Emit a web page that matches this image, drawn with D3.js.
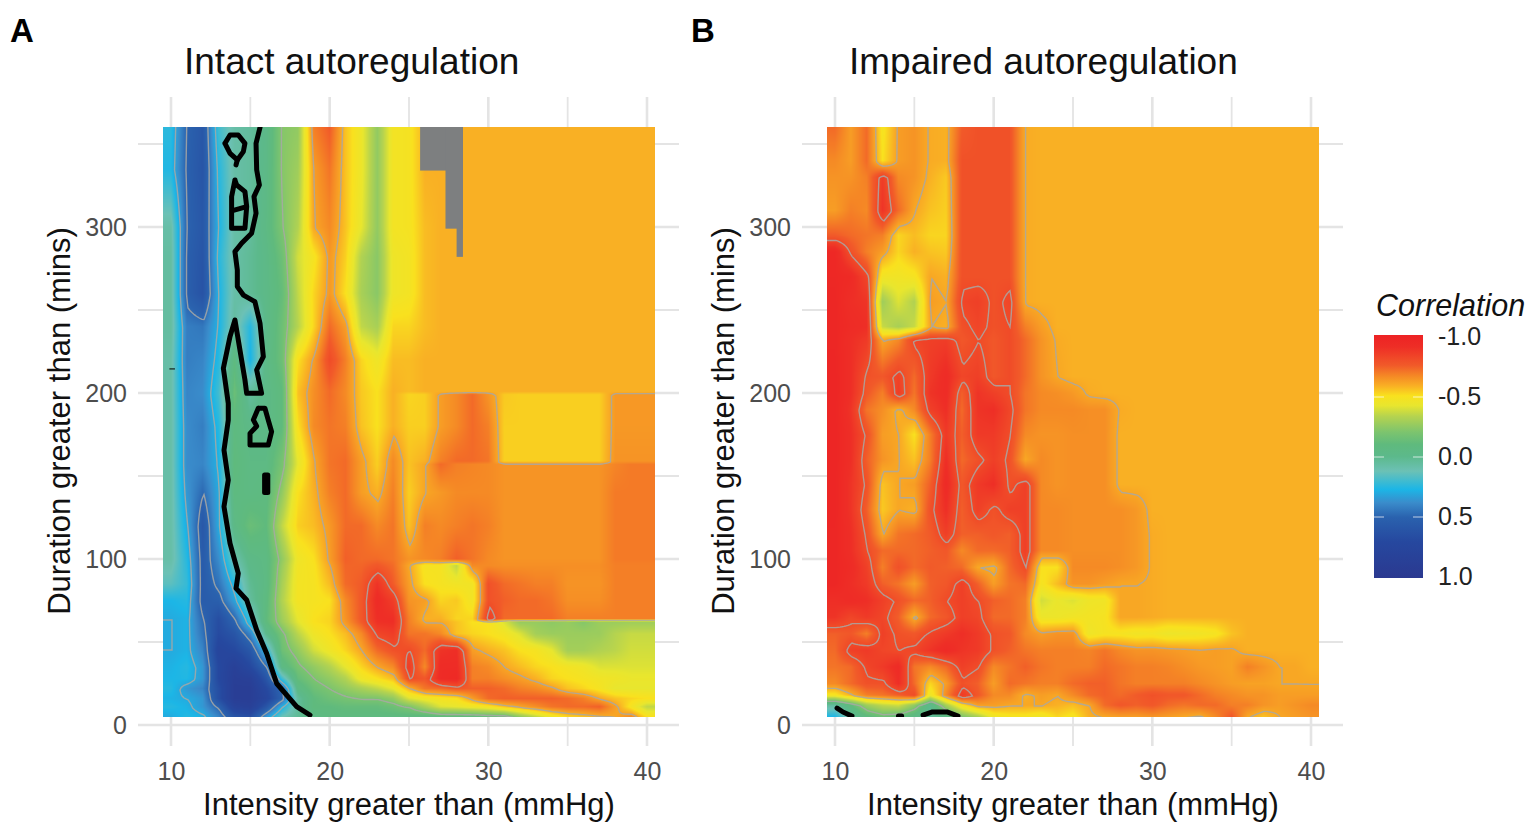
<!DOCTYPE html>
<html>
<head>
<meta charset="utf-8">
<script src="https://cdn.jsdelivr.net/npm/d3@7"></script>
<style>
body { margin: 0; background: #fff; }
svg { display: block; font-family: "Liberation Sans", Arial, sans-serif; }
</style>
</head>
<body>
<svg id="chart" width="1537" height="829"></svg>
<script>
// intensity thresholds (mmHg), one value per column of the rows below
var intensities = d3.range(10, 41);

// duration thresholds (mins) and correlation x100, panel A
var durationsA = [360, 335, 300, 282, 260, 240, 220, 201, 199, 180, 159, 157, 140, 120, 100, 96, 85, 75, 64, 62, 55, 45, 35, 28, 22, 16, 11, 5];
var intact = [
    [24,50,58,20,8,5,-2,-22,-25,-68,-75,-55,-44,-25,-47,-48,-58,-58,-58,-58,-58,-58,-58,-58,-58,-58,-58,-58,-58,-58,-58],
    [26,51,60,25,8,5,-3,-22,-28,-62,-70,-55,-44,-25,-47,-48,-58,-58,-58,-58,-58,-58,-58,-58,-58,-58,-58,-58,-58,-58,-58],
    [8,50,58,28,8,5,-5,-20,-32,-60,-66,-55,-42,-25,-47,-48,-56,-58,-58,-58,-58,-58,-58,-58,-58,-58,-58,-58,-58,-58,-58],
    [6,52,60,25,8,3,-3,-15,-38,-48,-63,-53,-32,-23,-45,-47,-56,-58,-58,-58,-58,-58,-58,-58,-58,-58,-58,-58,-58,-58,-58],
    [6,52,62,28,8,3,-3,-12,-35,-52,-63,-50,-30,-23,-45,-47,-56,-58,-58,-58,-58,-58,-58,-58,-58,-58,-58,-58,-58,-58,-58],
    [6,42,44,28,6,25,-2,-15,-33,-52,-72,-62,-35,-30,-52,-52,-56,-58,-58,-58,-58,-58,-58,-58,-58,-58,-58,-58,-58,-58,-58],
    [8,42,40,25,-8,28,-3,-15,-50,-62,-80,-68,-52,-45,-56,-56,-58,-58,-58,-58,-58,-58,-58,-58,-58,-58,-58,-58,-58,-58,-58],
    [8,40,38,20,-14,5,-3,-10,-55,-65,-72,-66,-54,-50,-58,-56,-58,-58,-58,-58,-58,-58,-58,-58,-58,-58,-58,-58,-58,-58,-58],
    [8,40,38,20,-14,5,-3,-10,-55,-65,-72,-66,-54,-50,-58,-52,-53,-62,-66,-72,-64,-54,-53,-53,-53,-53,-53,-53,-63,-63,-63],
    [8,38,42,25,-8,-3,-3,-10,-50,-66,-70,-68,-55,-50,-58,-53,-53,-62,-66,-72,-68,-53,-53,-53,-53,-53,-53,-53,-63,-63,-63],
    [8,38,40,28,-10,-5,-5,-18,-42,-60,-70,-72,-62,-53,-66,-55,-58,-68,-72,-72,-70,-53,-53,-53,-53,-53,-53,-53,-64,-64,-64],
    [8,38,40,28,-10,-5,-5,-18,-42,-60,-70,-72,-62,-53,-66,-55,-60,-72,-68,-67,-66,-64,-64,-64,-64,-64,-64,-64,-67,-69,-69],
    [8,35,48,30,-8,-6,-8,-25,-50,-58,-68,-72,-62,-58,-68,-53,-60,-63,-66,-66,-66,-64,-64,-64,-64,-64,-64,-64,-69,-69,-69],
    [8,30,58,30,-4,-14,-10,-35,-53,-56,-63,-72,-72,-66,-70,-55,-68,-66,-68,-70,-68,-64,-64,-64,-64,-64,-64,-64,-69,-69,-69],
    [8,25,55,38,10,-3,-6,-25,-45,-50,-62,-74,-72,-72,-70,-64,-66,-68,-74,-70,-66,-64,-64,-64,-64,-64,-64,-64,-69,-69,-69],
    [10,24,55,40,14,-2,-6,-27,-46,-49,-60,-73,-73,-76,-72,-60,-48,-48,-35,-66,-66,-65,-65,-65,-65,-65,-65,-65,-68,-68,-68],
    [15,22,55,45,25,2,-6,-30,-47,-48,-56,-72,-75,-88,-75,-62,-50,-48,-46,-46,-78,-72,-70,-68,-68,-64,-64,-64,-68,-68,-68],
    [27,25,55,52,32,5,-8,-32,-47,-48,-50,-66,-76,-92,-85,-64,-62,-52,-54,-46,-78,-74,-72,-72,-70,-65,-65,-65,-68,-68,-68],
    [30,28,48,65,48,20,-10,-28,-42,-50,-52,-64,-76,-90,-90,-68,-58,-58,-52,-52,-85,-72,-72,-72,-72,-68,-68,-68,-68,-68,-68],
    [30,28,47,66,50,22,-9,-27,-41,-50,-52,-63,-75,-89,-90,-68,-60,-60,-55,-50,-50,-40,-26,-26,-24,-26,-22,-27,-27,-28,-28],
    [30,28,45,68,60,40,0,-18,-34,-45,-50,-56,-66,-82,-85,-70,-70,-66,-55,-52,-50,-47,-40,-29,-27,-27,-27,-27,-33,-36,-36],
    [30,28,40,75,70,58,25,-15,-25,-38,-45,-52,-60,-72,-78,-80,-72,-88,-90,-62,-58,-55,-50,-48,-42,-29,-29,-32,-34,-38,-38],
    [28,25,35,70,85,70,48,-5,-18,-25,-32,-42,-52,-60,-66,-85,-66,-92,-92,-68,-66,-60,-56,-52,-50,-47,-45,-40,-40,-40,-40],
    [27,26,35,70,88,85,60,20,-12,-20,-25,-32,-45,-50,-56,-80,-76,-92,-94,-68,-68,-65,-62,-58,-52,-50,-48,-46,-45,-43,-43],
    [25,35,40,65,90,90,70,48,-4,-15,-20,-25,-30,-35,-42,-58,-70,-72,-76,-74,-74,-72,-68,-66,-62,-55,-52,-48,-42,-42,-42],
    [28,30,35,65,90,90,75,50,5,-10,-15,-18,-20,-20,-25,-40,-45,-48,-50,-62,-72,-74,-74,-74,-74,-72,-68,-60,-55,-52,-50],
    [25,28,35,50,80,85,60,28,5,-10,-10,-12,-12,-12,-15,-20,-30,-40,-42,-45,-48,-55,-60,-65,-70,-72,-72,-74,-62,-48,-35],
    [30,25,28,40,60,65,35,12,3,-5,-8,-8,-8,-8,-8,-8,-8,-10,-10,-10,-12,-12,-25,-35,-45,-52,-55,-58,-60,-66,-50]
];

// duration thresholds (mins) and correlation x100, panel B
var durationsB = [360, 340, 330, 310, 295, 285, 270, 255, 240, 232, 210, 200, 190, 175, 160, 145, 130, 115, 105, 95, 85, 75, 65, 55, 45, 35, 25, 18, 12, 5];
var impaired = [
    [-72,-62,-72,-48,-62,-64,-59,-58,-75,-78,-78,-78,-59,-58,-58,-58,-58,-58,-58,-58,-58,-58,-58,-58,-58,-58,-58,-58,-58,-58,-58],
    [-66,-62,-72,-50,-62,-64,-59,-58,-78,-78,-78,-78,-59,-58,-58,-58,-58,-58,-58,-58,-58,-58,-58,-58,-58,-58,-58,-58,-58,-58,-58],
    [-64,-64,-68,-85,-66,-64,-58,-54,-78,-78,-78,-78,-59,-58,-58,-58,-58,-58,-58,-58,-58,-58,-58,-58,-58,-58,-58,-58,-58,-58,-58],
    [-62,-68,-66,-88,-72,-60,-55,-53,-78,-78,-78,-78,-59,-58,-58,-58,-58,-58,-58,-58,-58,-58,-58,-58,-58,-58,-58,-58,-58,-58,-58],
    [-75,-72,-70,-68,-52,-56,-52,-52,-78,-78,-78,-78,-59,-58,-58,-58,-58,-58,-58,-58,-58,-58,-58,-58,-58,-58,-58,-58,-58,-58,-58],
    [-95,-78,-68,-62,-52,-58,-55,-54,-78,-78,-78,-78,-59,-58,-58,-58,-58,-58,-58,-58,-58,-58,-58,-58,-58,-58,-58,-58,-58,-58,-58],
    [-95,-93,-82,-46,-46,-48,-60,-58,-78,-78,-78,-78,-59,-58,-58,-58,-58,-58,-58,-58,-58,-58,-58,-58,-58,-58,-58,-58,-58,-58,-58],
    [-96,-90,-88,-28,-40,-32,-62,-60,-82,-84,-78,-82,-59,-58,-58,-58,-58,-58,-58,-58,-58,-58,-58,-58,-58,-58,-58,-58,-58,-58,-58],
    [-96,-92,-90,-36,-30,-36,-60,-58,-78,-82,-78,-80,-68,-62,-58,-58,-58,-58,-58,-58,-58,-58,-58,-58,-58,-58,-58,-58,-58,-58,-58],
    [-96,-90,-86,-60,-66,-82,-84,-85,-76,-80,-76,-80,-72,-64,-59,-58,-58,-58,-58,-58,-58,-58,-58,-58,-58,-58,-58,-58,-58,-58,-58],
    [-97,-90,-78,-76,-83,-72,-86,-92,-82,-84,-76,-80,-72,-64,-60,-58,-58,-58,-58,-58,-58,-58,-58,-58,-58,-58,-58,-58,-58,-58,-58],
    [-97,-90,-76,-68,-85,-70,-88,-92,-74,-88,-84,-80,-70,-66,-65,-63,-59,-58,-58,-58,-58,-58,-58,-58,-58,-58,-58,-58,-58,-58,-58],
    [-97,-88,-70,-65,-58,-66,-84,-90,-72,-88,-90,-82,-70,-66,-66,-66,-65,-65,-59,-58,-58,-58,-58,-58,-58,-58,-58,-58,-58,-58,-58],
    [-97,-90,-78,-62,-60,-50,-68,-86,-74,-86,-86,-80,-66,-64,-64,-65,-65,-65,-58,-58,-58,-58,-58,-58,-58,-58,-58,-58,-58,-58,-58],
    [-97,-90,-74,-64,-60,-55,-68,-90,-72,-78,-84,-78,-60,-66,-64,-65,-65,-65,-58,-58,-58,-58,-58,-58,-58,-58,-58,-58,-58,-58,-58],
    [-97,-88,-78,-55,-60,-62,-74,-93,-76,-86,-90,-78,-84,-66,-64,-65,-65,-65,-58,-58,-58,-58,-58,-58,-58,-58,-58,-58,-58,-58,-58],
    [-97,-88,-74,-54,-60,-58,-78,-90,-74,-84,-78,-84,-84,-66,-66,-65,-65,-65,-65,-63,-58,-58,-58,-58,-58,-58,-58,-58,-58,-58,-58],
    [-96,-90,-78,-60,-70,-72,-75,-84,-74,-74,-76,-74,-84,-66,-66,-65,-65,-65,-65,-63,-59,-58,-58,-58,-58,-58,-58,-58,-58,-58,-58],
    [-96,-90,-80,-72,-72,-72,-74,-76,-66,-72,-72,-74,-84,-66,-66,-65,-65,-65,-65,-63,-59,-58,-58,-58,-58,-58,-58,-58,-58,-58,-58],
    [-96,-92,-84,-68,-78,-72,-75,-74,-72,-60,-58,-72,-80,-50,-50,-66,-66,-66,-65,-63,-59,-58,-58,-58,-58,-58,-58,-58,-58,-58,-58],
    [-96,-90,-86,-74,-70,-62,-74,-76,-84,-74,-62,-70,-72,-48,-56,-64,-64,-62,-60,-60,-59,-58,-58,-58,-58,-58,-58,-58,-58,-58,-58],
    [-90,-92,-90,-84,-78,-72,-74,-80,-84,-80,-74,-72,-68,-38,-43,-40,-45,-46,-60,-60,-59,-58,-58,-58,-58,-58,-58,-58,-58,-58,-58],
    [-88,-82,-86,-82,-74,-58,-72,-76,-84,-82,-72,-72,-68,-44,-44,-46,-47,-48,-60,-60,-59,-58,-58,-58,-58,-58,-58,-58,-58,-58,-58],
    [-74,-76,-68,-84,-78,-76,-82,-86,-90,-86,-78,-76,-66,-62,-64,-64,-45,-48,-48,-46,-47,-44,-45,-46,-48,-55,-58,-58,-58,-58,-58],
    [-72,-84,-86,-82,-80,-82,-88,-93,-88,-86,-78,-74,-70,-68,-68,-68,-67,-70,-66,-64,-64,-63,-62,-61,-62,-61,-58,-58,-58,-58,-58],
    [-70,-72,-82,-86,-92,-70,-66,-72,-84,-80,-66,-70,-74,-70,-68,-68,-68,-72,-70,-68,-68,-67,-65,-63,-62,-61,-68,-64,-60,-60,-58],
    [-66,-72,-78,-78,-90,-72,-52,-62,-78,-74,-62,-72,-70,-68,-68,-72,-74,-74,-70,-68,-68,-68,-68,-66,-64,-62,-61,-61,-60,-60,-60],
    [-48,-58,-68,-70,-74,-80,-45,-66,-86,-76,-66,-66,-58,-62,-60,-66,-72,-74,-72,-75,-78,-76,-76,-72,-68,-66,-64,-64,-62,-62,-62],
    [5,-10,-28,-35,-38,-25,0,-30,-50,-62,-62,-60,-60,-60,-58,-56,-60,-72,-76,-74,-76,-72,-70,-72,-72,-68,-68,-64,-62,-64,-66],
    [27,5,-8,-15,-12,-5,5,-3,-20,-30,-45,-48,-48,-45,-52,-48,-58,-60,-62,-62,-64,-62,-60,-58,-66,-76,-60,-55,-60,-62,-64]
];

// no-data block in panel A: [from intensity, to intensity, down to duration]
var noDataA = [[25.7, 28.4, 334], [27.3, 28.4, 299], [28.0, 28.4, 282]];

// significance boundary: [intensity, duration]
var boundaryA = [
    [[15.61,360],[15.36,350.4],[15.40,334.4],[15.57,325.3],[15.23,318.3],[15.36,308.3],[15.08,296.2],[14.45,290.2],[14.03,285.2],[14.18,274.1],[14.18,264.1],[14.56,259],[15.29,255],[15.61,242],[15.82,221.9],[15.40,213.9],[15.71,199.8],[14.77,199.8],[14.66,207.9],[14.45,219.9],[14.03,244],[13.72,234],[13.30,214.9],[13.61,193.8],[13.61,183.7],[13.34,165.6],[13.61,147.6],[13.34,131.5],[13.72,109.4],[14.24,91.3],[14.10,82.3],[14.77,75.3],[15.40,57.2],[16.03,43.1],[16.66,25],[17.92,11],[18.76,6]],
    [[13.40,350.4],[13.72,355.4],[14.24,355.4],[14.66,350.4],[14.56,345.4],[14.18,340.4],[13.72,344.4],[13.40,350.4]],
    [[14.18,340.4],[14.10,337.4]],
    [[14.03,328.3],[13.82,318.3],[13.82,299.2],[14.66,299.2],[14.77,312.3],[14.66,321.3],[14.14,325.3],[14.03,328.3]],
    [[13.93,310],[14.66,312]],
    [[15.5,190.8],[15.92,190.8],[16.13,183.7],[16.34,176.7],[16.13,168.6],[14.98,168.6],[14.98,175.7],[15.4,180],[15.19,183.8],[15.5,190.8]],
    [[15.9,150.6],[16.1,150.6],[16.1,140],[15.9,140],[15.9,150.6]]
];
var boundaryB = [
    [[10.13,10.2],[10.5,7.8],[11.07,5.4]],
    [[14.0,5.4],[14.2,5.4]],
    [[15.55,6],[16.1,7.8],[17.1,7.8],[17.75,5.4]]
];
// thin dash near the first column of panel A
var dashA = [[[9.9,214.5],[10.25,214.5]]];

var xTicks = [10, 20, 30, 40];
var yTicks = [0, 100, 200, 300];
var xGrid = d3.range(10, 41, 5);
var yGrid = d3.range(0, 351, 50);
var contourLevels = [-80, -60, -20, 30, 48];

// colour ramp of the legend, correlation x100
var rampValues = [-100, -90, -75, -66, -58, -50, -42, -33, -20, -10, 0, 12, 27, 38, 50, 70, 100];
var rampColours = ["#ed2224", "#ee2e26", "#f15a29", "#f58a25", "#f9b024", "#f9e11e", "#e8e62e", "#b5d34f", "#7cc46e", "#5fba7d", "#5cb98b", "#6cc1b5", "#1cb6e6", "#3a8ccb", "#2a62ae", "#26489f", "#2b3990"];
var legendTicks = [-100, -50, 0, 50, 100];
var legendLabels = ["-1.0", "-0.5", "0.0", "0.5", "1.0"];

var color = d3.scaleLinear().domain(rampValues).range(rampColours).interpolate(d3.interpolateRgb).clamp(true);
var svg = d3.select("#chart");

function cellValue(rows, durations, intensity, duration) {
    var cx = Math.max(0, Math.min(intensities.length - 1, intensity - 10));
    var c0 = Math.floor(cx), c1 = Math.min(c0 + 1, intensities.length - 1), tx = cx - c0;
    // durations run downwards
    var r1 = 0;
    while (r1 < durations.length - 1 && durations[r1] > duration) r1++;
    var r0 = Math.max(0, r1 - 1);
    var ty = r0 == r1 ? 0 : (durations[r0] - duration) / (durations[r0] - durations[r1]);
    ty = Math.max(0, Math.min(1, ty));
    var top = rows[r0][c0] * (1 - tx) + rows[r0][c1] * tx;
    var bot = rows[r1][c0] * (1 - tx) + rows[r1][c1] * tx;
    return top * (1 - ty) + bot * ty;
}

function panel(opts) {
    var x = d3.scaleLinear().domain([10, 40]).range([opts.left, opts.left + 476]);
    var y = d3.scaleLinear().domain([0, 300]).range([725, 227]);
    var g = svg.append("g");

    // grid
    g.selectAll(".gx").data(xGrid).enter().append("line")
        .attr("x1", function (d) { return x(d); }).attr("x2", function (d) { return x(d); })
        .attr("y1", 97).attr("y2", 746)
        .attr("stroke", "#e4e4e4")
        .attr("stroke-width", function (d) { return d % 10 == 0 ? 2.6 : 1.8; });
    g.selectAll(".gy").data(yGrid).enter().append("line")
        .attr("x1", opts.left - 33).attr("x2", opts.left + 508)
        .attr("y1", function (d) { return y(d); }).attr("y2", function (d) { return y(d); })
        .attr("stroke", "#e4e4e4")
        .attr("stroke-width", function (d) { return d % 100 == 0 ? 2.6 : 1.8; });

    // raster, one canvas pixel per screen pixel
    var x0 = Math.round(x(9.5)), x1 = Math.round(x(40.5)), y0 = Math.round(y(360)), y1 = Math.round(y(4.8));
    var w = x1 - x0, h = y1 - y0;
    var canvas = document.createElement("canvas");
    canvas.width = w; canvas.height = h;
    var ctx = canvas.getContext("2d");
    for (var j = 0; j < h; j++) {
        for (var i = 0; i < w; i++) {
            var v = cellValue(opts.rows, opts.durations, x.invert(x0 + i + 0.5), y.invert(y0 + j + 0.5));
            ctx.fillStyle = color(v);
            ctx.fillRect(i, j, 1, 1);
        }
    }
    g.append("image")
        .attr("x", x0).attr("y", y0).attr("width", w).attr("height", h)
        .attr("preserveAspectRatio", "none")
        .attr("href", canvas.toDataURL());

    var clipId = "clip" + opts.left;
    svg.append("clipPath").attr("id", clipId).append("rect")
        .attr("x", x0).attr("y", y0).attr("width", w).attr("height", h);

    // no-data block
    g.selectAll(".na").data(opts.noData).enter().append("rect")
        .attr("x", function (d) { return x(d[0]); })
        .attr("y", y0)
        .attr("width", function (d) { return x(d[1]) - x(d[0]); })
        .attr("height", function (d) { return y(d[2]) - y0; })
        .attr("fill", "#7d7f80");

    // grey contours, sampled a little past the raster so that no line runs along its edge
    var pad = 4, step = 2;
    var gw = Math.ceil((w + 2 * pad) / step), gh = Math.ceil((h + 2 * pad) / step);
    var values = new Array(gw * gh);
    for (var b = 0; b < gh; b++) {
        for (var a = 0; a < gw; a++) {
            values[b * gw + a] = cellValue(opts.rows, opts.durations, x.invert(x0 - pad + a * step), y.invert(y0 - pad + b * step));
        }
    }
    var contours = d3.contours().size([gw, gh]).thresholds(contourLevels)(values);
    var path = d3.geoPath(d3.geoIdentity().scale(step).translate([x0 - pad, y0 - pad]));
    g.append("g").attr("clip-path", "url(#" + clipId + ")")
        .selectAll("path").data(contours).enter().append("path")
        .attr("d", path)
        .attr("fill", "none")
        .attr("stroke", "#a8a8a4")
        .attr("stroke-opacity", 0.85)
        .attr("stroke-width", 1.4);

    // significance boundary
    var line = d3.line().x(function (d) { return x(d[0]); }).y(function (d) { return y(d[1]); });
    g.append("g").attr("clip-path", "url(#" + clipId + ")")
        .selectAll("path").data(opts.boundary).enter().append("path")
        .attr("d", line)
        .attr("fill", "none")
        .attr("stroke", "#000")
        .attr("stroke-width", 5)
        .attr("stroke-linejoin", "round")
        .attr("stroke-linecap", "round");
    g.selectAll(".dash").data(opts.dash).enter().append("path")
        .attr("d", line)
        .attr("stroke", "#000")
        .attr("stroke-width", 1);

    // axes
    var ax = g.append("g").attr("transform", "translate(0,754)")
        .call(d3.axisBottom(x).tickValues(xTicks).tickSize(0).tickPadding(8));
    var ay = g.append("g").attr("transform", "translate(" + (opts.left - 37) + ",0)")
        .call(d3.axisLeft(y).tickValues(yTicks).tickSize(0).tickPadding(7));
    ax.select(".domain").remove();
    ay.select(".domain").remove();
    g.selectAll(".tick text")
        .attr("fill", "#4d4d4d")
        .style("font-size", "25px");

    g.append("text").attr("x", opts.left + 238).attr("y", 815)
        .attr("text-anchor", "middle").style("font-size", "31px").attr("fill", "#111")
        .text("Intensity greater than (mmHg)");
    g.append("text").attr("transform", "translate(" + (opts.left - 101) + ",421) rotate(-90)")
        .attr("text-anchor", "middle").style("font-size", "31px").attr("fill", "#111")
        .text("Duration greater than (mins)");
    g.append("text").attr("x", opts.titleX).attr("y", 74)
        .style("font-size", "37px").attr("fill", "#111")
        .text(opts.title);
    g.append("text").attr("x", opts.tagX).attr("y", 42)
        .style("font-size", "33px").style("font-weight", "bold").attr("fill", "#000")
        .text(opts.tag);
}

panel({ left: 171, rows: intact, durations: durationsA, noData: noDataA, boundary: boundaryA, dash: dashA, title: "Intact autoregulation", titleX: 184, tag: "A", tagX: 10 });
panel({ left: 835, rows: impaired, durations: durationsB, noData: [], boundary: boundaryB, dash: [], title: "Impaired autoregulation", titleX: 849, tag: "B", tagX: 691 });

// legend
var legendY = d3.scaleLinear().domain([-100, 100]).range([337, 577]);
var grad = svg.append("defs").append("linearGradient").attr("id", "ramp")
    .attr("x1", 0).attr("x2", 0).attr("y1", 0).attr("y2", 1);
grad.selectAll("stop").data(rampValues).enter().append("stop")
    .attr("offset", function (d) { return (d + 100) / 200; })
    .attr("stop-color", function (d) { return color(d); });
svg.append("rect").attr("x", 1374).attr("y", legendY(-100) - 2).attr("width", 49).attr("height", 243)
    .attr("fill", "url(#ramp)");
var lt = svg.selectAll(".lt").data(legendTicks.slice(1, 4)).enter().append("g");
lt.append("line").attr("x1", 1374).attr("x2", 1384)
    .attr("y1", function (d) { return legendY(d); }).attr("y2", function (d) { return legendY(d); })
    .attr("stroke", "#fff").attr("stroke-opacity", 0.7);
lt.append("line").attr("x1", 1413).attr("x2", 1423)
    .attr("y1", function (d) { return legendY(d); }).attr("y2", function (d) { return legendY(d); })
    .attr("stroke", "#fff").attr("stroke-opacity", 0.7);
svg.selectAll(".ll").data(legendTicks).enter().append("text")
    .attr("x", 1438)
    .attr("y", function (d) { return legendY(d) + 8; })
    .style("font-size", "25px").attr("fill", "#222")
    .text(function (d, i) { return legendLabels[i]; });
svg.append("text").attr("x", 1376).attr("y", 316)
    .style("font-size", "30.5px").style("font-style", "italic").attr("fill", "#111")
    .text("Correlation");
</script>
</body>
</html>
